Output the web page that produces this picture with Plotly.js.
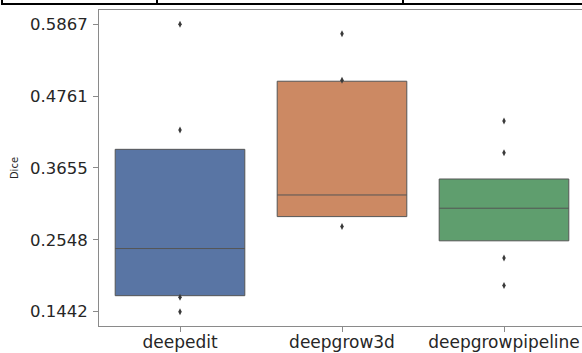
<!DOCTYPE html>
<html>
<head>
<meta charset="utf-8">
<script src="https://cdn.plot.ly/plotly-3.0.1.min.js"></script>
<style>
  html, body { margin: 0; padding: 0; background: #fff; overflow: hidden; width: 582px; height: 353px; }
  #chart { position: absolute; left: 0; top: 0; }
  .tb { position: absolute; background: #000; }
</style>
</head>
<body>
<div id="chart"></div>
<div class="tb" style="left:1px; top:3px; width:581px; height:2px;"></div>
<div class="tb" style="left:1px; top:0px; width:2px; height:5px;"></div>
<div class="tb" style="left:156px; top:0px; width:2px; height:5px;"></div>
<div class="tb" style="left:402px; top:0px; width:2px; height:5px;"></div>
<script>
// Categories and letter-value (quartile) boxes
const categories = ['deepedit', 'deepgrow3d', 'deepgrowpipeline'];
const q1Values = [0.1688, 0.2906, 0.2533];
const medianValues = [0.2414, 0.3239, 0.3035];
const q3Values = [0.3942, 0.4991, 0.3485];

// Outlier points per category
const outliersDeepedit = [0.5867, 0.4238, 0.1662, 0.1442];
const outliersDeepgrow3d = [0.5724, 0.5007, 0.2752];
const outliersDeepgrowpipeline = [0.4377, 0.3889, 0.2267, 0.1846];

// Y tick labels
const yTickVals = [0.1442, 0.2548, 0.3655, 0.4761, 0.5867];
const yTickText = ['0.1442', '0.2548', '0.3655', '0.4761', '0.5867'];

const fillColors = ['#5975a4', '#cc8963', '#5f9e6e'];
const outlierSets = [outliersDeepedit, outliersDeepgrow3d, outliersDeepgrowpipeline];

const traces = [];
categories.forEach((c, i) => {
  traces.push({
    type: 'box',
    x: [c],
    q1: [q1Values[i]],
    median: [medianValues[i]],
    q3: [q3Values[i]],
    lowerfence: [q1Values[i]],
    upperfence: [q3Values[i]],
    width: 0.8,
    whiskerwidth: 0,
    boxpoints: false,
    fillcolor: fillColors[i],
    line: { color: '#555555', width: 1 },
    showlegend: false,
    hoverinfo: 'skip'
  });
});
categories.forEach((c, i) => {
  traces.push({
    type: 'scatter',
    mode: 'markers',
    x: outlierSets[i].map(() => c),
    y: outlierSets[i],
    marker: { symbol: 'diamond-tall', size: 5, color: '#3a3a3a' },
    showlegend: false,
    hoverinfo: 'skip'
  });
});

const layout = {
  width: 586,
  height: 353,
  margin: { l: 99, r: 1, t: 10, b: 27 },
  paper_bgcolor: '#ffffff',
  plot_bgcolor: '#ffffff',
  showlegend: false,
  boxmode: 'overlay',
  xaxis: {
    type: 'category',
    categoryorder: 'array',
    categoryarray: categories,
    range: [-0.5, 2.5],
    showgrid: false,
    zeroline: false,
    showline: true,
    mirror: true,
    linecolor: '#8a8a8a',
    linewidth: 1,
    ticks: 'outside',
    ticklen: 5,
    tickcolor: '#8a8a8a',
    tickfont: { family: 'DejaVu Sans, sans-serif', size: 17, color: '#262626' },
    ticklabelstandoff: -4,
    fixedrange: true
  },
  yaxis: {
    range: [0.1221, 0.6088],
    tickmode: 'array',
    tickvals: yTickVals,
    ticktext: yTickText,
    showgrid: false,
    zeroline: false,
    showline: true,
    mirror: true,
    linecolor: '#8a8a8a',
    linewidth: 1,
    ticks: 'outside',
    ticklen: 5,
    tickcolor: '#8a8a8a',
    tickfont: { family: 'DejaVu Sans, sans-serif', size: 16.5, color: '#262626' },
    ticklabelstandoff: 2,
    title: { text: 'Dice', font: { family: 'DejaVu Sans, sans-serif', size: 10, color: '#262626' }, standoff: 9 },
    automargin: false,
    fixedrange: true
  }
};

Plotly.newPlot('chart', traces, layout, { displayModeBar: false, staticPlot: true });
</script>
</body>
</html>
